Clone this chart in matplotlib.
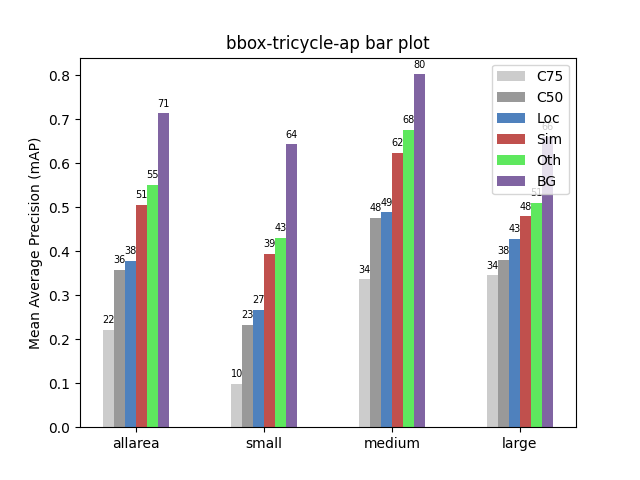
import numpy as np
import matplotlib
matplotlib.use('Agg')
import matplotlib.pyplot as plt

groups = ["allarea", "small", "medium", "large"]
series = ["C75", "C50", "Loc", "Sim", "Oth", "BG"]
colors = ["#cccccc", "#999999", "#4f81bd", "#c0504d", "#5ee85e", "#8064a2"]
values = [
    [0.222, 0.099, 0.336, 0.345],
    [0.358, 0.233, 0.476, 0.380],
    [0.378, 0.267, 0.488, 0.428],
    [0.506, 0.394, 0.624, 0.479],
    [0.551, 0.431, 0.676, 0.510],
    [0.713, 0.643, 0.802, 0.660],
]

fig, ax = plt.subplots(figsize=(6.4, 4.8), dpi=100)
x = np.arange(len(groups))
w = 0.086
for i, (name, col, vals) in enumerate(zip(series, colors, values)):
    pos = x + (i - 2.5) * w
    ax.bar(pos, vals, w, color=col, label=name)
    for p, v in zip(pos, vals):
        ax.text(p, v + 0.01, "%d" % round(v * 100), ha="center", va="bottom", fontsize=7)

ax.set_xticks(x)
ax.set_xticklabels(groups)
ax.set_xlim(-0.44, 3.44)
ax.set_ylim(0, 0.84)
ax.set_ylabel("Mean Average Precision (mAP)")
ax.set_title("bbox-tricycle-ap bar plot")
ax.legend(loc="upper right")
plt.savefig("out.png")
